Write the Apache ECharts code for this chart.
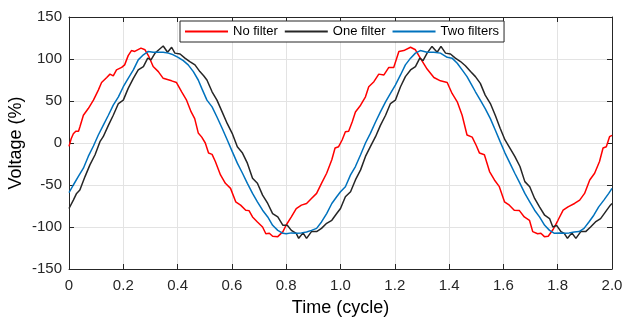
<!DOCTYPE html>
<html>
<head>
<meta charset="utf-8">
<script src="https://cdn.jsdelivr.net/npm/echarts@6/dist/echarts.min.js"></script>
<style>html,body{margin:0;padding:0;background:#fff}#c{width:624px;height:324px}</style>
</head>
<body>
<div id="c"></div>
<script>
const seriesNames = ['No filter', 'One filter', 'Two filters'];
const xTicks = [0, 0.2, 0.4, 0.6, 0.8, 1.0, 1.2, 1.4, 1.6, 1.8, 2.0];
const xTickLabels = ['0', '0.2', '0.4', '0.6', '0.8', '1.0', '1.2', '1.4', '1.6', '1.8', '2.0'];
const yTicks = [-150, -100, -50, 0, 50, 100, 150];

const noFilter = [
[0,-4],[0.008,5],[0.016,11],[0.025,14],[0.035,14],[0.04,19],[0.053,33],[0.071,41],[0.09,51],[0.108,63],
[0.12,72],[0.139,78],[0.151,82],[0.163,80],[0.175,87],[0.194,90],[0.205,93],[0.218,104],[0.23,110],[0.242,109],
[0.265,113],[0.28,111],[0.294,103],[0.31,91],[0.329,85],[0.347,77],[0.378,74],[0.396,72],[0.415,61],[0.433,51],
[0.45,37],[0.463,29],[0.476,12],[0.489,7],[0.502,0],[0.514,-12],[0.527,-13.5],[0.539,-22],[0.558,-38],[0.576,-48],
[0.595,-54],[0.614,-70],[0.632,-74],[0.651,-80],[0.663,-80.5],[0.676,-88],[0.694,-94],[0.713,-100],[0.725,-108],[0.738,-107.5],
[0.75,-111],[0.769,-111.5],[0.788,-105.5],[0.8,-97.6],[0.819,-88],[0.837,-78],[0.856,-74],[0.875,-72],[0.893,-66],[0.912,-60],
[0.93,-48],[0.949,-36],[0.968,-20],[0.98,-6],[0.993,-4.4],[1.006,3.6],[1.018,13.5],[1.03,14],[1.043,25],[1.055,37],
[1.074,45],[1.092,55],[1.104,67],[1.123,73],[1.141,82],[1.16,81],[1.178,90],[1.196,90],[1.215,109],[1.233,110],
[1.258,114],[1.276,111],[1.294,101],[1.319,88],[1.344,78],[1.368,74],[1.393,72],[1.411,59],[1.43,49],[1.448,33],
[1.466,9.5],[1.485,7],[1.5,-3],[1.512,-12],[1.53,-14],[1.549,-34],[1.567,-44],[1.585,-52],[1.604,-70],[1.622,-74],
[1.64,-80],[1.659,-80.5],[1.677,-88],[1.696,-92],[1.708,-105.5],[1.726,-108],[1.738,-107.5],[1.751,-111.5],[1.765,-111],[1.783,-103],
[1.801,-92],[1.82,-80],[1.838,-76],[1.862,-72],[1.881,-68],[1.899,-60],[1.918,-44],[1.936,-36],[1.954,-22],[1.967,-6],
[1.979,-4.4],[1.991,7.5],[2.0,9]
];

const oneFilter = [
[0,-78],[0.016,-68],[0.028,-60],[0.04,-56],[0.059,-40],[0.077,-26],[0.096,-14],[0.114,1.6],[0.126,7.5],[0.145,21],
[0.163,33],[0.182,47],[0.2,51],[0.218,65],[0.237,77],[0.255,87],[0.274,91],[0.29,101],[0.302,99],[0.317,107],
[0.331,111],[0.347,115.5],[0.363,108],[0.378,114],[0.39,107],[0.409,106],[0.427,101],[0.445,97],[0.464,93],[0.482,85],
[0.496,80],[0.508,75],[0.527,61],[0.545,51],[0.564,37],[0.583,23],[0.601,11.5],[0.62,-4.4],[0.639,-12],[0.657,-24],
[0.676,-42],[0.694,-48],[0.713,-62],[0.732,-72],[0.75,-84],[0.769,-88],[0.788,-98],[0.804,-98],[0.819,-104],[0.837,-107.5],
[0.846,-113.5],[0.862,-107],[0.875,-113.5],[0.893,-105.5],[0.912,-105.5],[0.93,-101.6],[0.949,-95.6],[0.968,-92],[0.986,-84],[1.0,-78],
[1.018,-64],[1.037,-58],[1.055,-44],[1.074,-32],[1.092,-16],[1.11,-4.4],[1.129,7.5],[1.147,21],[1.166,33],[1.184,47],
[1.202,51],[1.221,67],[1.239,79],[1.258,87],[1.276,91],[1.292,101],[1.304,98],[1.319,107],[1.337,115],[1.356,108],
[1.37,115],[1.387,107],[1.405,106],[1.423,101],[1.442,97],[1.46,92],[1.479,85],[1.497,79],[1.515,71],[1.533,57],
[1.552,47],[1.57,33],[1.588,17.5],[1.606,3.6],[1.624,-6],[1.642,-16],[1.661,-28],[1.679,-46],[1.697,-52],[1.715,-66],
[1.733,-76],[1.752,-86],[1.77,-90],[1.782,-100],[1.796,-98],[1.812,-105.5],[1.824,-107.5],[1.836,-113.5],[1.852,-107],[1.867,-113.5],
[1.885,-105.5],[1.903,-105.5],[1.921,-100],[1.939,-94],[1.958,-90],[1.976,-82],[1.994,-74],[2.0,-72]
];

const twoFilters = [
[0,-59],[0.016,-50],[0.034,-40],[0.053,-30],[0.071,-16],[0.09,-3.6],[0.108,9.5],[0.126,21],[0.145,33],[0.163,45],
[0.182,55],[0.2,67],[0.218,77],[0.237,87],[0.255,99],[0.274,105],[0.292,109],[0.31,108],[0.329,108],[0.347,108],
[0.366,107],[0.384,105],[0.402,102],[0.421,98],[0.439,93],[0.458,85],[0.476,75],[0.489,65],[0.508,51],[0.527,43],
[0.545,31],[0.564,17.5],[0.583,3.6],[0.601,-10],[0.62,-24],[0.639,-36],[0.657,-48],[0.676,-60],[0.694,-70],[0.713,-80],
[0.732,-88],[0.75,-98],[0.769,-104],[0.788,-107.5],[0.8,-108],[0.819,-107],[0.837,-107.5],[0.856,-107],[0.875,-106],[0.893,-104],
[0.912,-101.6],[0.93,-94],[0.949,-84],[0.968,-72],[0.986,-64],[1.0,-58],[1.018,-52],[1.037,-38],[1.055,-28],[1.074,-14],
[1.092,0],[1.11,11.5],[1.129,25],[1.147,37],[1.166,49],[1.184,59],[1.202,69],[1.221,81],[1.239,93],[1.258,101],
[1.276,107],[1.294,110],[1.319,108],[1.344,108],[1.368,107],[1.393,102],[1.411,101],[1.43,95],[1.448,87],[1.466,79],
[1.485,68],[1.497,61],[1.515,51],[1.533,41],[1.552,29],[1.57,15.5],[1.588,1.6],[1.606,-12],[1.624,-24],[1.642,-36],
[1.661,-48],[1.679,-60],[1.697,-70],[1.715,-80],[1.733,-88],[1.752,-98],[1.77,-104],[1.788,-107.5],[1.806,-107],[1.824,-107.5],
[1.842,-107],[1.861,-106],[1.879,-105.5],[1.897,-101.6],[1.915,-94],[1.933,-86],[1.951,-76],[1.97,-68],[1.988,-60],[2.0,-54]
];

const FONT = "'Liberation Sans', Arial, Helvetica, sans-serif";
const AX = '#262626';
const chart = echarts.init(document.getElementById('c'), null, {renderer: 'canvas'});

function xLabel(v) {
  for (let i = 0; i < xTicks.length; i++) if (Math.abs(xTicks[i] - v) < 1e-6) return xTickLabels[i];
  return '';
}

const baseX = {
  type: 'value', min: xTicks[0], max: xTicks[xTicks.length - 1], interval: 0.2,
  axisLine: {show: true, onZero: false, lineStyle: {color: AX, width: 1}},
  axisTick: {show: true, inside: true, length: 5, lineStyle: {color: AX}},
};
const baseY = {
  type: 'value', min: yTicks[0], max: yTicks[yTicks.length - 1], interval: 50,
  axisLine: {show: true, onZero: false, lineStyle: {color: AX, width: 1}},
  axisTick: {show: true, inside: true, length: 5, lineStyle: {color: AX}},
};

chart.setOption({
  animation: false,
  backgroundColor: '#fff',
  textStyle: {fontFamily: FONT},
  grid: {left: 69, right: 12, top: 17, bottom: 55, containLabel: false, outerBoundsMode: 'none'},
  legend: {
    left: 180, top: 21,
    orient: 'horizontal',
    itemWidth: 43, itemHeight: 2, itemGap: 7,
    icon: 'rect',
    padding: [4, 5, 4, 5],
    borderColor: AX, borderWidth: 1, backgroundColor: '#fff',
    textStyle: {fontSize: 13, color: '#000', fontFamily: FONT},
    data: seriesNames
  },
  xAxis: [
    Object.assign({}, baseX, {
      position: 'bottom',
      name: 'Time (cycle)', nameLocation: 'middle', nameGap: 30, nameMoveOverlap: false,
      nameTextStyle: {fontSize: 18, color: '#000', fontFamily: FONT},
      axisLabel: {show: true, fontSize: 15, color: AX, margin: 9, fontFamily: FONT, formatter: xLabel},
      splitLine: {show: true, lineStyle: {color: '#e3e3e3', width: 1}}
    }),
    Object.assign({}, baseX, {
      position: 'top',
      axisLabel: {show: false},
      splitLine: {show: false}
    })
  ],
  yAxis: [
    Object.assign({}, baseY, {
      position: 'left',
      name: 'Voltage (%)', nameLocation: 'middle', nameGap: 44, nameMoveOverlap: false,
      nameTextStyle: {fontSize: 18, color: '#000', fontFamily: FONT},
      axisLabel: {show: true, fontSize: 15, color: AX, margin: 7, fontFamily: FONT},
      splitLine: {show: true, lineStyle: {color: '#e3e3e3', width: 1}}
    }),
    Object.assign({}, baseY, {
      position: 'right',
      axisLabel: {show: false},
      splitLine: {show: false}
    })
  ],
  series: [
    {name: seriesNames[0], type: 'line', data: noFilter, showSymbol: false, symbol: 'none',
     lineStyle: {color: '#ff0000', width: 1.5}, itemStyle: {color: '#ff0000'}, z: 3},
    {name: seriesNames[1], type: 'line', data: oneFilter, showSymbol: false, symbol: 'none',
     lineStyle: {color: '#262626', width: 1.5}, itemStyle: {color: '#262626'}, z: 4},
    {name: seriesNames[2], type: 'line', data: twoFilters, showSymbol: false, symbol: 'none',
     lineStyle: {color: '#0072bd', width: 1.5}, itemStyle: {color: '#0072bd'}, z: 5}
  ]
});
</script>
</body>
</html>
